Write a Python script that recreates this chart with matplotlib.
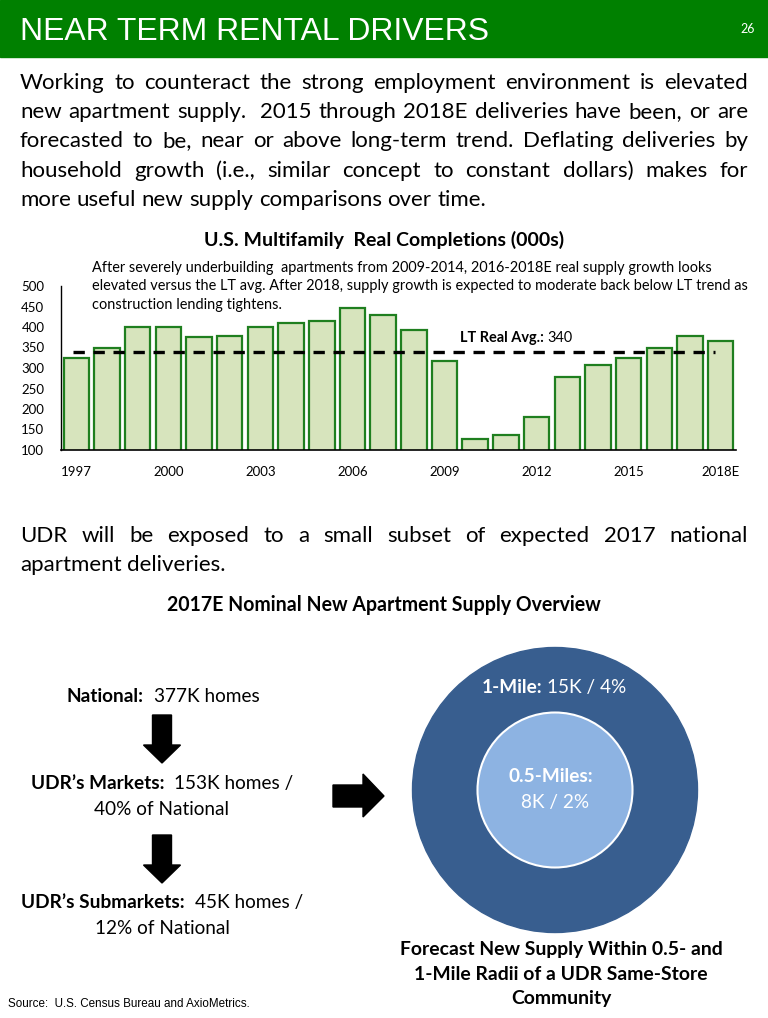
"""
UDR slide: near term rental drivers
Bar chart of real multifamily completions plus the supply overview diagram
"""

import matplotlib
matplotlib.use('Agg')
import matplotlib.pyplot as plt
from matplotlib.patches import Rectangle, Circle, Polygon

# Data
years = ['1997', '1998', '1999', '2000', '2001', '2002', '2003', '2004', '2005', '2006', '2007',
         '2008', '2009', '2010', '2011', '2012', '2013', '2014', '2015', '2016', '2017', '2018E']
completions = [325, 350, 400, 400, 375, 378, 400, 410, 415, 447, 430,
               393, 318, 128, 137, 181, 279, 308, 325, 350, 379, 367]
lt_avg = 340
tick_labels = ['1997', '2000', '2003', '2006', '2009', '2012', '2015', '2018E']
y_ticks = [100, 150, 200, 250, 300, 350, 400, 450, 500]

para1 = ['Working to counteract the strong employment environment is elevated',
         'new apartment supply.  2015 through 2018E deliveries have been, or are',
         'forecasted to be, near or above long-term trend. Deflating deliveries by',
         'household growth (i.e., similar concept to constant dollars) makes for',
         'more useful new supply comparisons over time.']
para2 = ['UDR will be exposed to a small subset of expected 2017 national',
         'apartment deliveries.']
note = ['After severely underbuilding  apartments from 2009-2014, 2016-2018E real supply growth looks',
        'elevated versus the LT avg. After 2018, supply growth is expected to moderate back below LT trend as',
        'construction lending tightens.']
caption = ['Forecast New Supply Within 0.5- and',
           '1-Mile Radii of a UDR Same-Store',
           'Community']

GREEN = '#008000'
BAR_FACE = '#D7E4BD'
BAR_EDGE = '#1F7F1F'
OUTER = '#385E8F'
INNER = '#8DB3E2'
BODY = 'Lato'
ARIAL = 'Liberation Sans'

W, H = 768, 1018
fig = plt.figure(figsize=(W / 100, H / 100), dpi=100)
page = fig.add_axes([0, 0, 1, 1])
page.set_xlim(0, W)
page.set_ylim(H, 0)
page.axis('off')
renderer = fig.canvas.get_renderer()


def width(s, **kw):
    t = page.text(0, 0, s, **kw)
    w = t.get_window_extent(renderer).width
    t.remove()
    return w


def fit(s, target, **kw):
    kw.setdefault('family', BODY)
    return 20 * target / width(s, fontsize=20, **kw)


def space_w(size, family=BODY):
    return width('a a', fontsize=size, family=family) - width('aa', fontsize=size, family=family)


def justify(line, y, left, right, size, last=False):
    words = line.split(' ')
    ws = [width(w, fontsize=size, family=BODY) if w else 0 for w in words]
    gap = space_w(size) if last else (right - left - sum(ws)) / (len(words) - 1)
    x = left
    for w, wd in zip(words, ws):
        if w:
            page.text(x, y, w, fontsize=size, family=BODY, ha='left', va='baseline')
        x += wd + gap


def rich(parts, x, y, size, color='black', center=True, spaces=2):
    ws = [width(t, fontsize=size, family=BODY, weight=wt) for t, wt in parts]
    gap = spaces * space_w(size)
    total = sum(ws) + gap * (len(parts) - 1)
    if center:
        x = x - total / 2
    for (t, wt), wd in zip(parts, ws):
        page.text(x, y, t, fontsize=size, family=BODY, weight=wt, color=color,
                  ha='left', va='baseline')
        x += wd + gap


# Header band
page.add_patch(Rectangle((0, 0), W, 57, color=GREEN, zorder=0))
s_head = fit('NEAR TERM RENTAL DRIVERS', 468, family=ARIAL)
page.text(20, 40, 'NEAR TERM RENTAL DRIVERS', fontsize=s_head, family=ARIAL,
          color='white', ha='left', va='baseline')
page.text(748, 33, '26', fontsize=9, family=BODY, color='white', ha='center', va='baseline')

# Paragraphs
s_body = fit(para1[-1], 466)
for i, line in enumerate(para1):
    justify(line, 89 + 29.2 * i, 20, 748, s_body, last=(i == len(para1) - 1))
for i, line in enumerate(para2):
    justify(line, 542 + 29.2 * i, 20, 748, s_body, last=(i == len(para2) - 1))

# Bar chart
s_ctitle = fit('U.S. Multifamily  Real Completions (000s)', 359, weight='bold')
page.text(384, 246, 'U.S. Multifamily  Real Completions (000s)', fontsize=s_ctitle,
          family=BODY, weight='bold', ha='center', va='baseline')
s_note = fit(note[1], 657)
for i, line in enumerate(note):
    page.text(92, 272 + 18.3 * i, line, fontsize=s_note, family=BODY, ha='left', va='baseline')

ax = fig.add_axes([61 / W, (H - 450) / H, 675 / W, 164 / H])
x = list(range(len(years)))
ax.bar(x, completions, width=0.83, color=BAR_FACE, edgecolor=BAR_EDGE, linewidth=1.6, zorder=2)
ax.hlines(lt_avg, -0.1, 20.8, colors='black', linestyles=(0, (3.4, 2.6)), linewidth=2.4, zorder=3)
ax.set_xlim(-0.5, len(years) - 0.5)
ax.set_ylim(100, 500)
ax.set_yticks(y_ticks)
ax.set_xticks([years.index(t) for t in tick_labels])
ax.set_xticklabels(tick_labels)
ax.tick_params(axis='y', length=0, pad=12, labelsize=9.5)
ax.tick_params(axis='x', length=0, pad=11.5, labelsize=9.5)
for lab in ax.get_xticklabels() + ax.get_yticklabels():
    lab.set_family(BODY)
for side in ['top', 'right']:
    ax.spines[side].set_visible(False)
ax.spines['left'].set_linewidth(1)
ax.spines['bottom'].set_linewidth(1.2)
ax.patch.set_alpha(0)

rich([('LT Real Avg.:', 'bold'), ('340', 'normal')], 460, 342, s_note, center=False, spaces=1)

# Supply overview
s_t2 = fit('2017E Nominal New Apartment Supply Overview', 433, weight='bold')
page.text(384, 611, '2017E Nominal New Apartment Supply Overview', fontsize=s_t2,
          family=BODY, weight='bold', ha='center', va='baseline')

s_flow = fit('12% of National', 135)
rich([('National:', 'bold'), ('377K homes', 'normal')], 163, 702, s_flow)
rich([('UDR\u2019s Markets:', 'bold'), ('153K homes /', 'normal')], 162, 789, s_flow)
page.text(162, 815, '40% of National', fontsize=s_flow, family=BODY, ha='center', va='baseline')
rich([('UDR\u2019s Submarkets:', 'bold'), ('45K homes /', 'normal')], 162, 908, s_flow)
page.text(162, 934, '12% of National', fontsize=s_flow, family=BODY, ha='center', va='baseline')


def down_arrow(cx, top, tip):
    head = tip - 18
    pts = [(cx - 9.5, top), (cx + 9.5, top), (cx + 9.5, head), (cx + 18.5, head),
           (cx, tip), (cx - 18.5, head), (cx - 9.5, head)]
    page.add_patch(Polygon(pts, closed=True, color='black'))


down_arrow(162, 715, 763)
down_arrow(162, 835, 883)
page.add_patch(Polygon([(333, 785), (363, 785), (363, 774), (384, 796), (363, 817),
                        (363, 807), (333, 807)], closed=True, color='black'))

page.add_patch(Circle((555, 790), 142.5, color=OUTER))
page.add_patch(Circle((555, 790), 77.5, facecolor=INNER, edgecolor='white', linewidth=1.5))
rich([('1-Mile:', 'bold'), ('15K / 4%', 'normal')], 554, 693, s_flow, color='white', spaces=1)
page.text(551, 782, '0.5-Miles:', fontsize=s_flow, family=BODY, weight='bold', color='white',
          ha='center', va='baseline')
page.text(555, 808, '8K / 2%', fontsize=s_flow, family=BODY, color='white',
          ha='center', va='baseline')

s_cap = fit(caption[0], 323, weight='bold')
for i, line in enumerate(caption):
    page.text(561, 955 + 24.5 * i, line, fontsize=s_cap, family=BODY, weight='bold',
              ha='center', va='baseline')

s_src = fit('Source:  U.S. Census Bureau and AxioMetrics.', 240, family=ARIAL)
page.text(8, 1007, 'Source:  U.S. Census Bureau and AxioMetrics.', fontsize=s_src,
          family=ARIAL, ha='left', va='baseline')

fig.savefig('out.png', dpi=100)
